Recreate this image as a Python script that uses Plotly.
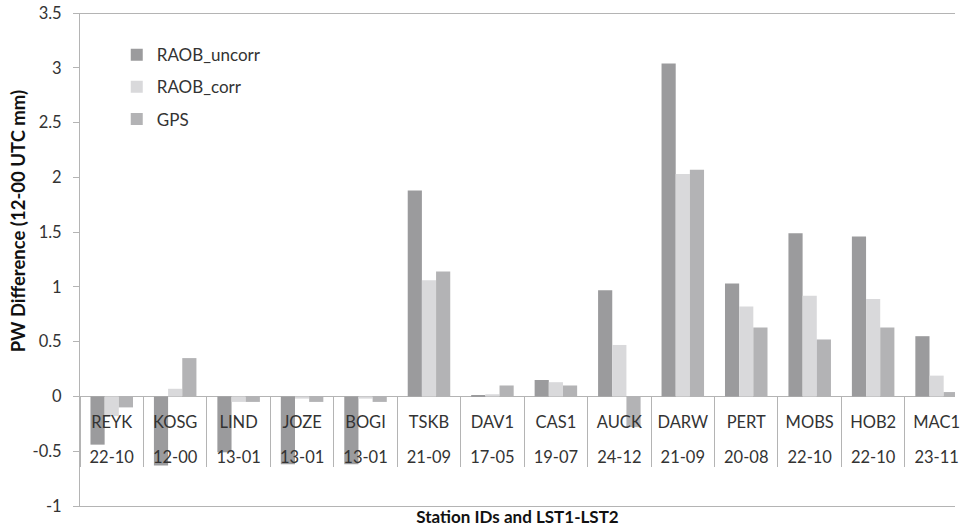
import plotly.graph_objects as go

stations = ["REYK", "KOSG", "LIND", "JOZE", "BOGI", "TSKB", "DAV1", "CAS1",
            "AUCK", "DARW", "PERT", "MOBS", "HOB2", "MAC1"]
lst_pairs = ["22-10", "12-00", "13-01", "13-01", "13-01", "21-09", "17-05", "19-07",
             "24-12", "21-09", "20-08", "22-10", "22-10", "23-11"]

raob_uncorr = [-0.44, -0.63, -0.51, -0.62, -0.62, 1.88, 0.01, 0.15, 0.97, 3.04, 1.03, 1.49, 1.46, 0.55]
raob_corr   = [-0.18,  0.07, -0.05, -0.02, -0.02, 1.06, 0.02, 0.13, 0.47, 2.03, 0.82, 0.92, 0.89, 0.19]
gps         = [-0.10,  0.35, -0.05, -0.05, -0.05, 1.14, 0.10, 0.10, -0.28, 2.07, 0.63, 0.52, 0.63, 0.04]

y_ticks = [-1, -0.5, 0, 0.5, 1, 1.5, 2, 2.5, 3, 3.5]
y_tick_text = ["-1", "-0.5", "0", "0.5", "1", "1.5", "2", "2.5", "3", "3.5"]

FONT = "Lato, 'Open Sans', sans-serif"
AXIS_GRAY = "#b4b4b4"
TXT = "#333333"
Y_MIN, Y_MAX = -1, 3.5
zero_pos = (0 - Y_MIN) / (Y_MAX - Y_MIN)
x_range = [-0.5, 13.29]
idx = list(range(len(stations)))

fig = go.Figure()
series = [("RAOB_uncorr", raob_uncorr, "#9b9b9d"),
          ("RAOB_corr", raob_corr, "#d9d9db"),
          ("GPS", gps, "#b3b3b5")]
for name, vals, col in series:
    fig.add_trace(go.Bar(x=stations, y=vals, name=name, legendgroup=name,
                         marker=dict(color=col, line=dict(width=0))))

# invisible helper traces so the label / frame axes get drawn
for ax in ["x2", "x3", "x4", "x5"]:
    fig.add_trace(go.Scatter(x=idx, y=[None] * len(idx), xaxis=ax, yaxis="y",
                             mode="markers", showlegend=False, hoverinfo="skip"))

label_axis = dict(overlaying="x", anchor="free", position=zero_pos,
                  range=x_range, tickmode="array", tickvals=idx,
                  ticks="outside", tickcolor="rgba(0,0,0,0)",
                  showline=False, showgrid=False, zeroline=False,
                  ticklabeloverflow="allow",
                  tickfont=dict(size=16.5, color=TXT))

fig.update_layout(
    width=960, height=532,
    margin=dict(l=80, r=0, t=13, b=26),
    paper_bgcolor="white", plot_bgcolor="white",
    font=dict(family=FONT, size=16, color=TXT),
    barmode="group", bargap=0.33, bargroupgap=0,
    showlegend=True,
    legend=dict(x=0.042, y=0.951, xanchor="left", yanchor="top",
                bgcolor="rgba(0,0,0,0)", tracegroupgap=7,
                font=dict(size=17, color=TXT)),
    xaxis=dict(type="category", categoryorder="array", categoryarray=stations,
               range=x_range, anchor="free", position=zero_pos,
               showline=True, linecolor=AXIS_GRAY, linewidth=1,
               ticks="outside", tickson="boundaries", ticklen=70,
               tickcolor=AXIS_GRAY, tickwidth=1, layer="below traces",
               showticklabels=False, showgrid=False, zeroline=False),
    xaxis2=dict(label_axis, ticktext=stations, ticklen=11),
    xaxis3=dict(label_axis, ticktext=lst_pairs, ticklen=46),
    xaxis4=dict(overlaying="x", anchor="y", range=x_range,
                showline=True, linecolor=AXIS_GRAY, linewidth=1,
                showticklabels=False, ticks="", showgrid=False, zeroline=False,
                title=dict(text="<b>Station IDs and LST1-LST2</b>", standoff=5,
                           font=dict(size=17, color="#111111"))),
    xaxis5=dict(overlaying="x", anchor="free", position=1, side="top",
                range=x_range, showline=True, linecolor=AXIS_GRAY, linewidth=1,
                showticklabels=False, ticks="", showgrid=False, zeroline=False),
    yaxis=dict(range=[Y_MIN, Y_MAX], tickmode="array", tickvals=y_ticks,
               ticktext=y_tick_text, showline=True, linecolor=AXIS_GRAY,
               linewidth=1, ticks="outside", ticklen=6, tickcolor=AXIS_GRAY,
               ticklabelstandoff=8,
               showgrid=False, zeroline=False,
               tickfont=dict(size=16.5, color=TXT)),
    annotations=[dict(text="<b>PW Difference (12-00 UTC mm)</b>", textangle=-90,
                      xref="paper", yref="paper", x=-62/880, y=(506 - 221) / 493,
                      xanchor="center", yanchor="middle", showarrow=False,
                      font=dict(size=18.5, color="#111111"))],
)

fig.write_html("out.html")
